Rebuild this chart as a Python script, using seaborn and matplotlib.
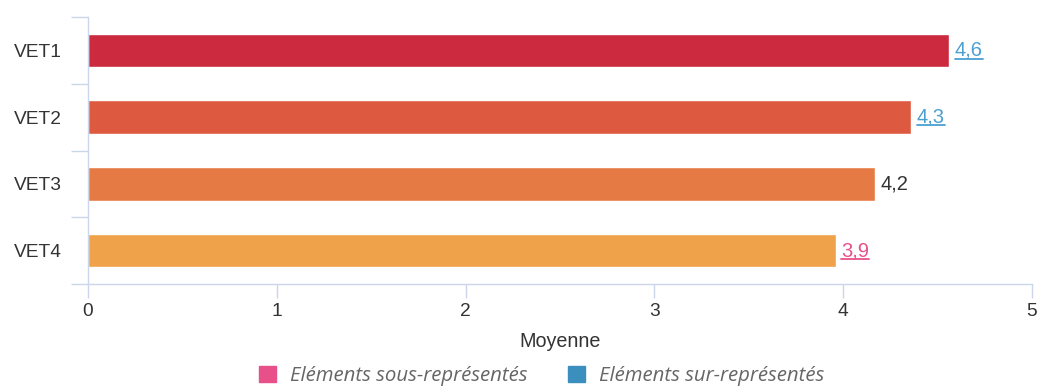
import matplotlib
matplotlib.use("Agg")
import matplotlib.pyplot as plt
from matplotlib.patches import Patch
from matplotlib.lines import Line2D
from matplotlib.ticker import FixedLocator
import seaborn as sns
import pandas as pd

categories = ["VET1", "VET2", "VET3", "VET4"]
values = [4.56, 4.36, 4.17, 3.96]
value_labels = ["4,6", "4,3", "4,2", "3,9"]
label_status = ["sur", "sur", "normal", "sous"]
bar_colors = ["#cc2a3e", "#dd5a40", "#e67a44", "#efa24a"]
legend_labels = ["Eléments sous-représentés", "Eléments sur-représentés"]
legend_colors = ["#e8508a", "#3a8fbf"]
x_label = "Moyenne"

sns.set_theme(style="white")
plt.rcParams["font.family"] = ["Liberation Sans", "DejaVu Sans"]

fig = plt.figure(figsize=(10.4, 3.87), dpi=100)
ax = fig.add_axes([88 / 1040, 103 / 387, (1032 - 88) / 1040, (370 - 103) / 387])

df = pd.DataFrame({"cat": categories, "val": values})
sns.barplot(data=df, x="val", y="cat", hue="cat", palette=bar_colors,
            orient="h", width=0.5, legend=False, ax=ax, saturation=1)

ax.set_xlim(0, 5)
ax.set_ylim(3.5, -0.5)

axis_col = "#ccd6eb"
text_col = "#333333"
for side in ["top", "right"]:
    ax.spines[side].set_visible(False)
for side in ["left", "bottom"]:
    ax.spines[side].set_color(axis_col)
    ax.spines[side].set_linewidth(1)

ax.set_xticks(range(0, 6))
ax.tick_params(axis="x", which="major", bottom=True, direction="out", length=10,
               color=axis_col, width=1, labelsize=13.8, labelcolor=text_col, pad=4)
ax.tick_params(axis="y", which="major", left=True, length=0, labelsize=13.8,
               labelcolor=text_col, pad=19)
ax.yaxis.set_minor_locator(FixedLocator([-0.5, 0.5, 1.5, 2.5, 3.5]))
ax.tick_params(axis="y", which="minor", left=True, direction="out", length=12,
               color=axis_col, width=1)
ax.set_ylabel("")
ax.set_xlabel(x_label, fontsize=14.2, color=text_col, labelpad=8)

status_colors = {"sur": "#4a9fd0", "sous": "#e8508a", "normal": text_col}
texts = []
for i, (v, lab, st) in enumerate(zip(values, value_labels, label_status)):
    t = ax.text(v + 0.03, i, lab, va="center", ha="left", fontsize=14.5,
                color=status_colors[st])
    texts.append((t, st))

handles = [Patch(facecolor=c, edgecolor=c) for c in legend_colors]
leg = fig.legend(handles, legend_labels, loc="center", bbox_to_anchor=(0.521, 0.028),
                 ncol=2, frameon=False, handlelength=0.8, handleheight=0.8,
                 handletextpad=0.7, columnspacing=2.0,
                 prop={"family": "Open Sans", "style": "italic", "size": 14.7})
for t in leg.get_texts():
    t.set_color("#666666")

fig.canvas.draw()
renderer = fig.canvas.get_renderer()
inv = fig.transFigure.inverted()
for t, st in texts:
    if st == "normal":
        continue
    bb = t.get_window_extent(renderer)
    (x0, y0), (x1, y1) = inv.transform([(bb.x0, bb.y0), (bb.x1, bb.y1)])
    yline = y0 + (y1 - y0) * 0.06
    fig.add_artist(Line2D([x0, x1], [yline, yline], transform=fig.transFigure,
                          color=t.get_color(), linewidth=1.3))

fig.savefig("out.png", dpi=100)
